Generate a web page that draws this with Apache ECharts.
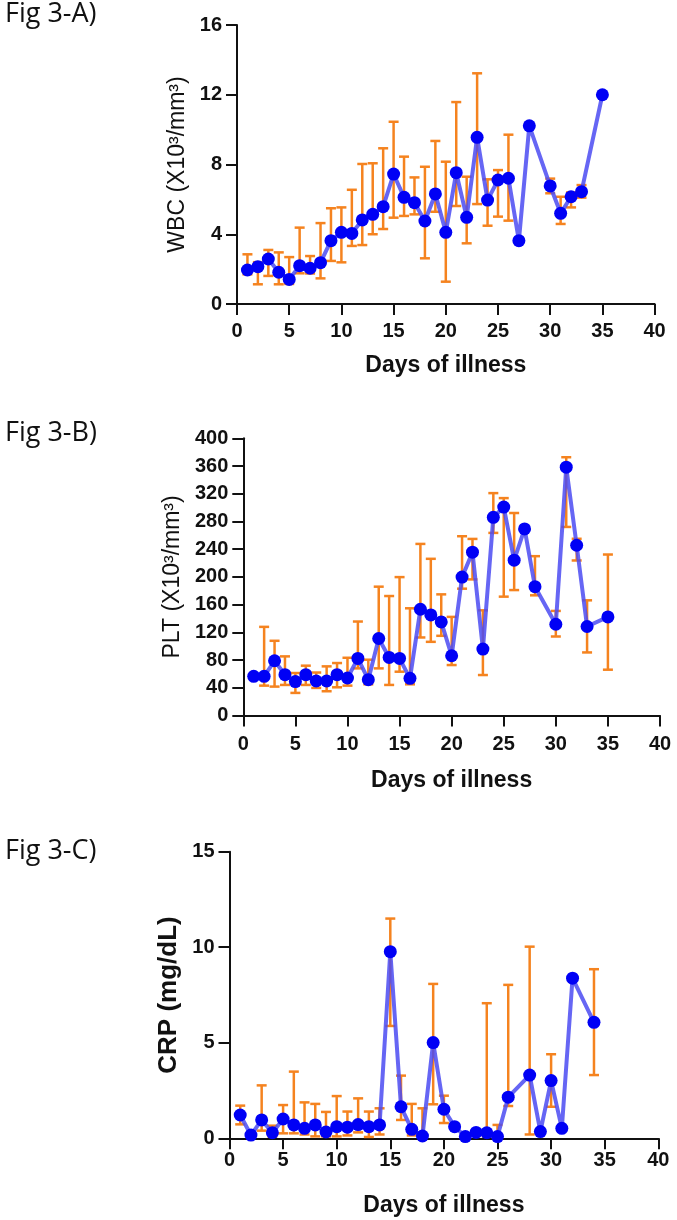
<!DOCTYPE html>
<html>
<head>
<meta charset="utf-8">
<script src="https://cdn.jsdelivr.net/npm/echarts@6/dist/echarts.min.js"></script>
<style>
html,body{margin:0;padding:0;background:#fff;}
#chart{width:677px;height:1220px;}
</style>
</head>
<body>
<div id="chart"></div>
<script>
// ---------- Data ----------
const xTicks = [0, 5, 10, 15, 20, 25, 30, 35, 40];

// Fig 3-A  WBC
const wbcDays = [1,2,3,4,5,6,7,8,9,10,11,12,13,14,15,16,17,18,19,20,21,22,23,24,25,26,27,28,30,31,32,33,35];
const wbcMean = [1.95,2.14,2.58,1.82,1.41,2.20,2.05,2.37,3.63,4.11,4.05,4.82,5.14,5.58,7.45,6.12,5.81,4.76,6.31,4.11,7.53,4.97,9.56,5.96,7.11,7.21,3.63,10.22,6.77,5.20,6.15,6.44,12.0];
const wbcLow  = [1.70,1.13,1.61,1.13,1.15,1.76,1.75,1.47,2.47,2.39,3.33,3.38,4.00,4.30,4.95,5.05,5.14,2.62,5.29,1.28,5.62,3.48,5.73,4.49,5.01,4.78,null,null,6.35,4.59,5.54,6.10,null];
const wbcHigh = [2.85,2.40,3.10,2.96,2.69,4.38,2.75,4.64,5.49,5.54,6.55,8.03,8.07,8.93,10.45,8.45,7.26,7.87,9.35,8.16,11.58,7.30,13.23,7.15,7.68,9.71,null,null,7.19,6.15,6.40,6.82,null];

// Fig 3-B  PLT
const pltDays = [1,2,3,4,5,6,7,8,9,10,11,12,13,14,15,16,17,18,19,20,21,22,23,24,25,26,27,28,30,31,32,33,35];
const pltMean = [56.5,56.5,79.0,58.9,48.9,58.9,49.8,49.8,58.9,54.1,82.4,51.7,111.1,83.8,82.4,53.6,153.3,145.1,135.1,86.2,199.7,235.7,95.8,286.0,300.8,224.2,269.2,185.9,131.7,358.3,245.7,128.4,142.3];
const pltLow  = [null,43.1,41.7,44.1,32.6,44.1,39.8,35.0,40.7,43.1,68.0,45.0,68.0,44.1,63.2,45.0,112.6,106.3,115.0,72.8,183.0,196.4,58.4,263.5,171.5,181.0,null,173.4,114.0,272.1,223.7,91.0,66.1];
const pltHigh = [null,127.9,107.8,85.3,61.3,71.9,62.0,70.9,75.7,83.3,135.6,80.5,185.9,172.4,199.7,154.7,247.6,226.1,174.8,142.3,258.7,254.8,151.8,320.9,313.7,292.2,null,229.9,150.9,372.7,255.0,166.2,232.3];

// Fig 3-C  CRP
const crpDays = [1,2,3,4,5,6,7,8,9,10,11,12,13,14,15,16,17,18,19,20,21,22,23,24,25,26,28,29,30,31,32,34];
const crpMean = [1.22,0.17,0.96,0.29,1.01,0.70,0.52,0.70,0.33,0.61,0.58,0.72,0.61,0.70,9.77,1.65,0.47,0.12,5.01,1.52,0.61,0.09,0.31,0.29,0.09,2.15,3.31,0.35,3.02,0.52,8.38,6.07];
const crpLow  = [0.73,null,0.40,0.10,0.26,0.26,0.20,0.10,0.10,0.10,0.15,0.31,0.07,0.20,5.88,0.96,0.15,0.05,1.78,0.80,null,null,null,0.10,0.05,1.69,0.20,null,1.65,null,null,3.31];
const crpHigh = [1.71,null,2.77,0.66,1.74,3.49,1.88,1.80,1.38,2.21,1.40,2.09,1.40,1.57,11.50,3.28,1.80,1.57,8.08,2.23,null,null,null,7.07,0.70,8.03,10.03,null,4.40,null,null,8.85];

const yTicksA = [0, 4, 8, 12, 16];
const yTicksB = [0, 40, 80, 120, 160, 200, 240, 280, 320, 360, 400];
const yTicksC = [0, 5, 10, 15];

// ---------- Styles ----------
const LINE_COLOR = 'rgba(75,75,242,0.85)';
const DOT_COLOR = '#0000f5';
const ERR_COLOR = '#f5831f';
const AX_COLOR = '#111';
const FONT = '"Liberation Sans", Arial, sans-serif';
const TICK_FONT = {fontFamily: FONT, fontWeight: 'bold', fontSize: 20, color: '#111'};

function pairs(days, vals) { return days.map((d, i) => [d, vals[i]]); }
function errData(days, lo, hi) {
  const out = [];
  days.forEach((d, i) => { if (lo[i] != null && hi[i] != null) out.push([d, lo[i], hi[i]]); });
  return out;
}
function renderErr(params, api) {
  const x = api.value(0), lo = api.value(1), hi = api.value(2);
  const a = api.coord([x, lo]), b = api.coord([x, hi]);
  const hw = 5;
  const st = {stroke: ERR_COLOR, lineWidth: 2.5};
  return {type: 'group', children: [
    {type: 'line', shape: {x1: a[0], y1: a[1], x2: b[0], y2: b[1]}, style: st},
    {type: 'line', shape: {x1: a[0]-hw, y1: a[1], x2: a[0]+hw, y2: a[1]}, style: st},
    {type: 'line', shape: {x1: b[0]-hw, y1: b[1], x2: b[0]+hw, y2: b[1]}, style: st}
  ]};
}

function xAxis(gridIndex, labelMargin, nameGap) {
  return {
    type: 'value', gridIndex, min: 0, max: 40, interval: 5,
    name: 'Days of illness', nameLocation: 'middle', nameGap,
    nameTextStyle: {fontFamily: FONT, fontWeight: 'bold', fontSize: 23, color: '#111'},
    axisLine: {show: true, onZero: false, lineStyle: {color: AX_COLOR, width: 2}},
    axisTick: {show: true, length: 11, lineStyle: {color: AX_COLOR, width: 2}},
    axisLabel: Object.assign({margin: labelMargin, showMinLabel: true, showMaxLabel: true,
      customValues: xTicks}, TICK_FONT),
    splitLine: {show: false}
  };
}
function yAxis(gridIndex, max, interval, ticks, name, nameStyle, nameGap) {
  return {
    type: 'value', gridIndex, min: 0, max, interval,
    name, nameLocation: 'middle', nameGap, nameRotate: 90,
    nameTextStyle: Object.assign({fontFamily: FONT, color: '#111'}, nameStyle),
    axisLine: {show: true, onZero: false, lineStyle: {color: AX_COLOR, width: 2}},
    axisTick: {show: true, length: 11, lineStyle: {color: AX_COLOR, width: 2}},
    axisLabel: Object.assign({margin: 15}, TICK_FONT),
    splitLine: {show: false}
  };
}
function lineSeries(idx, days, vals) {
  return {
    type: 'line', xAxisIndex: idx, yAxisIndex: idx, data: pairs(days, vals),
    symbol: 'circle', symbolSize: 13, z: 3,
    lineStyle: {color: LINE_COLOR, width: 4},
    itemStyle: {color: DOT_COLOR}
  };
}
function errSeries(idx, days, lo, hi) {
  return {type: 'custom', xAxisIndex: idx, yAxisIndex: idx, data: errData(days, lo, hi),
    renderItem: renderErr, z: 2, silent: true};
}

const chart = echarts.init(document.getElementById('chart'), null, {renderer: 'canvas'});
const figFont = '"Open Sans", "Noto Sans", sans-serif';
chart.setOption({
  animation: false,
  backgroundColor: '#fff',
  grid: [
    {left: 237, top: 25, width: 417.6, height: 279},
    {left: 243.3, top: 438.3, width: 416.7, height: 277.2},
    {left: 229.5, top: 851.7, width: 428.8, height: 286.6}
  ],
  xAxis: [xAxis(0, 17, 50), xAxis(1, 19, 54), xAxis(2, 12, 56)],
  yAxis: [
    yAxis(0, 16, 4, yTicksA, 'WBC (X10³/mm³)', {fontSize: 23}, 46),
    yAxis(1, 400, 40, yTicksB, 'PLT (X10³/mm³)', {fontSize: 23}, 57),
    yAxis(2, 15, 5, yTicksC, 'CRP (mg/dL)', {fontSize: 26, fontWeight: 'bold'}, 46)
  ],
  graphic: [
    {type: 'text', left: 5, top: 1, style: {text: 'Fig 3-A)', font: '27px ' + figFont, fill: '#111'}},
    {type: 'text', left: 5, top: 420, style: {text: 'Fig 3-B)', font: '27px ' + figFont, fill: '#111'}},
    {type: 'text', left: 5, top: 838, style: {text: 'Fig 3-C)', font: '27px ' + figFont, fill: '#111'}}
  ],
  series: [
    errSeries(0, wbcDays, wbcLow, wbcHigh), lineSeries(0, wbcDays, wbcMean),
    errSeries(1, pltDays, pltLow, pltHigh), lineSeries(1, pltDays, pltMean),
    errSeries(2, crpDays, crpLow, crpHigh), lineSeries(2, crpDays, crpMean)
  ]
});
</script>
</body>
</html>
